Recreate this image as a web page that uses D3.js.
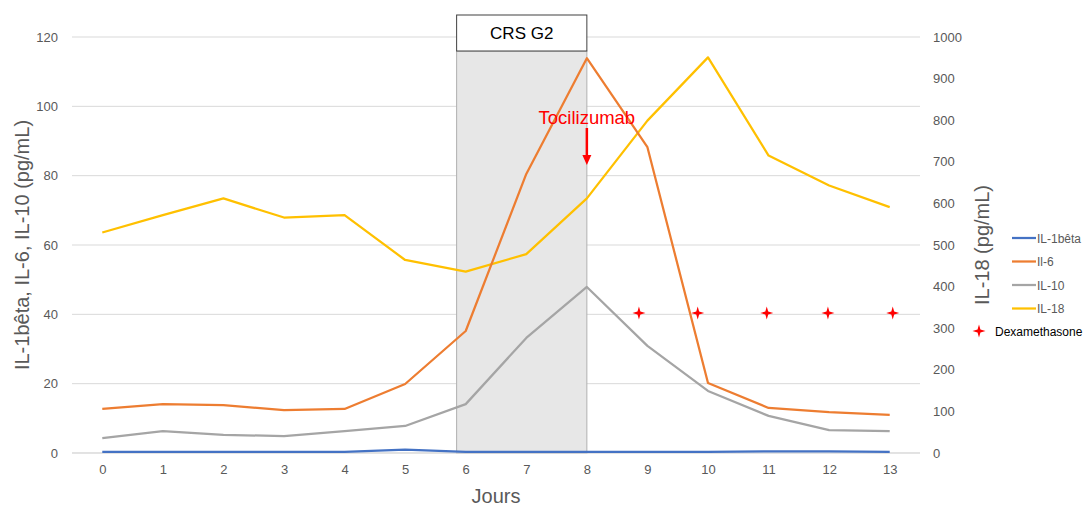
<!DOCTYPE html>
<html>
<head>
<meta charset="utf-8">
<script src="https://cdn.jsdelivr.net/npm/d3@7"></script>
<style>
  html, body { margin: 0; padding: 0; background: #fff; }
  svg { display: block; font-family: "Liberation Sans", Arial, sans-serif; }
</style>
</head>
<body>
<svg id="chart" width="1086" height="507"></svg>
<script>
// Days of follow-up
const days = [0, 1, 2, 3, 4, 5, 6, 7, 8, 9, 10, 11, 12, 13];

// Cytokine concentrations (pg/mL)
const il1beta = [0.3, 0.3, 0.3, 0.3, 0.3, 1.0, 0.3, 0.3, 0.3, 0.3, 0.3, 0.5, 0.5, 0.3];
const il6     = [12.7, 14.1, 13.8, 12.4, 12.7, 19.9, 35.2, 80.5, 113.9, 88.2, 20.2, 13.0, 11.8, 11.0];
const il10    = [4.3, 6.3, 5.2, 4.9, 6.3, 7.8, 14.1, 33.2, 47.9, 30.9, 17.9, 10.7, 6.6, 6.3];
const il18    = [530, 572, 612, 566, 572, 464, 436, 478, 612, 799, 951, 715, 643, 591];

// Dexamethasone administrations (day position, plotted on the left axis)
const dexaDays  = [8.86, 9.83, 10.97, 11.98, 13.05];
const dexaLevel = 40.4;

// CRS grade 2 period and tocilizumab dose
const crsPeriod = [5.85, 8];
const tociDay = 8;

// Axis ticks
const leftTicks  = [0, 20, 40, 60, 80, 100, 120];
const rightTicks = [0, 100, 200, 300, 400, 500, 600, 700, 800, 900, 1000];

const seriesNames  = ["IL-1bêta", "Il-6", "IL-10", "IL-18"];
const seriesColors = ["#4472C4", "#ED7D31", "#A5A5A5", "#FFC000"];

const svg = d3.select("#chart");
const plotLeft = 72, plotRight = 920, plotTop = 37, plotBottom = 453;

const x = d3.scalePoint().domain(days).range([plotLeft, plotRight]).padding(0.5);
const step = x.step();
// continuous day -> pixel (for positions between categories)
const xc = d => x(0) + d * step;
const yL = d3.scaleLinear().domain([0, 120]).range([plotBottom, plotTop]);
const yR = d3.scaleLinear().domain([0, 1000]).range([plotBottom, plotTop]);

const axisColor = "#595959";

// Gridlines
svg.append("g")
  .selectAll("line").data(leftTicks).join("line")
  .attr("x1", plotLeft).attr("x2", plotRight)
  .attr("y1", d => yL(d)).attr("y2", d => yL(d))
  .attr("stroke", "#d9d9d9").attr("stroke-width", 1);

// CRS shaded period
svg.append("rect")
  .attr("x", xc(crsPeriod[0])).attr("y", 51)
  .attr("width", xc(crsPeriod[1]) - xc(crsPeriod[0]))
  .attr("height", yL(0) - 51)
  .attr("fill", "#e7e7e7").attr("stroke", "#b0b0b0").attr("stroke-width", 1);

// CRS label box
svg.append("rect")
  .attr("x", xc(crsPeriod[0])).attr("y", 15)
  .attr("width", xc(crsPeriod[1]) - xc(crsPeriod[0]))
  .attr("height", 36)
  .attr("fill", "#fff").attr("stroke", "#404040").attr("stroke-width", 1);
svg.append("text")
  .attr("x", (xc(crsPeriod[0]) + xc(crsPeriod[1])) / 2).attr("y", 39)
  .attr("text-anchor", "middle").attr("font-size", 17).attr("fill", "#000")
  .text("CRS G2");

// Left axis
const leftAxis = svg.append("g").attr("transform", `translate(${plotLeft},0)`)
  .call(d3.axisLeft(yL).tickValues(leftTicks).tickSize(0).tickPadding(14));
leftAxis.select(".domain").remove();
leftAxis.selectAll("text").attr("fill", axisColor).attr("font-size", 13)
  .attr("font-family", "Liberation Sans, Arial, sans-serif");

// Right axis
const rightAxis = svg.append("g").attr("transform", `translate(${plotRight},0)`)
  .call(d3.axisRight(yR).tickValues(rightTicks).tickFormat(d3.format("d"))
    .tickSize(0).tickPadding(13));
rightAxis.select(".domain").remove();
rightAxis.selectAll("text").attr("fill", axisColor).attr("font-size", 13)
  .attr("font-family", "Liberation Sans, Arial, sans-serif");

// Bottom axis
const bottomAxis = svg.append("g").attr("transform", `translate(0,${plotBottom})`)
  .call(d3.axisBottom(x).tickSize(0).tickPadding(12));
bottomAxis.select(".domain").attr("stroke", "#d9d9d9")
  .attr("d", `M${plotLeft},0H${plotRight}`);
bottomAxis.selectAll("text").attr("fill", axisColor).attr("font-size", 13)
  .attr("font-family", "Liberation Sans, Arial, sans-serif");

// Axis titles
svg.append("text")
  .attr("transform", "translate(29,245) rotate(-90)")
  .attr("text-anchor", "middle").attr("font-size", 20).attr("fill", axisColor)
  .text("IL-1bêta, IL-6, IL-10 (pg/mL)");
svg.append("text")
  .attr("transform", "translate(989,245) rotate(-90)")
  .attr("text-anchor", "middle").attr("font-size", 20).attr("fill", axisColor)
  .text("IL-18 (pg/mL)");
svg.append("text")
  .attr("x", 496).attr("y", 503)
  .attr("text-anchor", "middle").attr("font-size", 20).attr("fill", axisColor)
  .text("Jours");

// Lines
const lineL = d3.line().x((d, i) => x(days[i])).y(d => yL(d));
const lineR = d3.line().x((d, i) => x(days[i])).y(d => yR(d));
const seriesData = [
  { values: il1beta, gen: lineL },
  { values: il6, gen: lineL },
  { values: il10, gen: lineL },
  { values: il18, gen: lineR }
];
// draw order: IL-18 behind, then IL-10, IL-6, IL-1bêta
[3, 2, 1, 0].forEach(i => {
  svg.append("path")
    .attr("d", seriesData[i].gen(seriesData[i].values))
    .attr("fill", "none").attr("stroke", seriesColors[i])
    .attr("stroke-width", 2.25).attr("stroke-linejoin", "round");
});

// Four-point star marker
function star(cx, cy, r) {
  const k = r * 0.22;
  return `M${cx},${cy - r}L${cx + k},${cy - k}L${cx + r},${cy}L${cx + k},${cy + k}` +
         `L${cx},${cy + r}L${cx - k},${cy + k}L${cx - r},${cy}L${cx - k},${cy - k}Z`;
}
svg.append("g").selectAll("path").data(dexaDays).join("path")
  .attr("d", d => star(xc(d), yL(dexaLevel), 6.5))
  .attr("fill", "#ff0000");

// Tocilizumab annotation
const tx = x(tociDay);
svg.append("text")
  .attr("x", tx).attr("y", 124)
  .attr("text-anchor", "middle").attr("font-size", 18.5).attr("fill", "#ff0000")
  .text("Tocilizumab");
svg.append("line")
  .attr("x1", tx).attr("x2", tx).attr("y1", 128).attr("y2", 156)
  .attr("stroke", "#ff0000").attr("stroke-width", 2.5);
svg.append("path")
  .attr("d", `M${tx - 4.5},155L${tx + 4.5},155L${tx},165Z`)
  .attr("fill", "#ff0000");

// Legend
const legend = svg.append("g");
seriesNames.forEach((name, i) => {
  const ly = 238 + i * 23.5;
  legend.append("line")
    .attr("x1", 1012).attr("x2", 1036).attr("y1", ly).attr("y2", ly)
    .attr("stroke", seriesColors[i]).attr("stroke-width", 2.25);
  legend.append("text")
    .attr("x", 1037).attr("y", ly + 4.5)
    .attr("font-size", 12).attr("fill", axisColor).text(name);
});
legend.append("path").attr("d", star(979, 331, 6.5)).attr("fill", "#ff0000");
legend.append("text")
  .attr("x", 995).attr("y", 335.5)
  .attr("font-size", 12).attr("fill", "#000").text("Dexamethasone");
</script>
</body>
</html>
